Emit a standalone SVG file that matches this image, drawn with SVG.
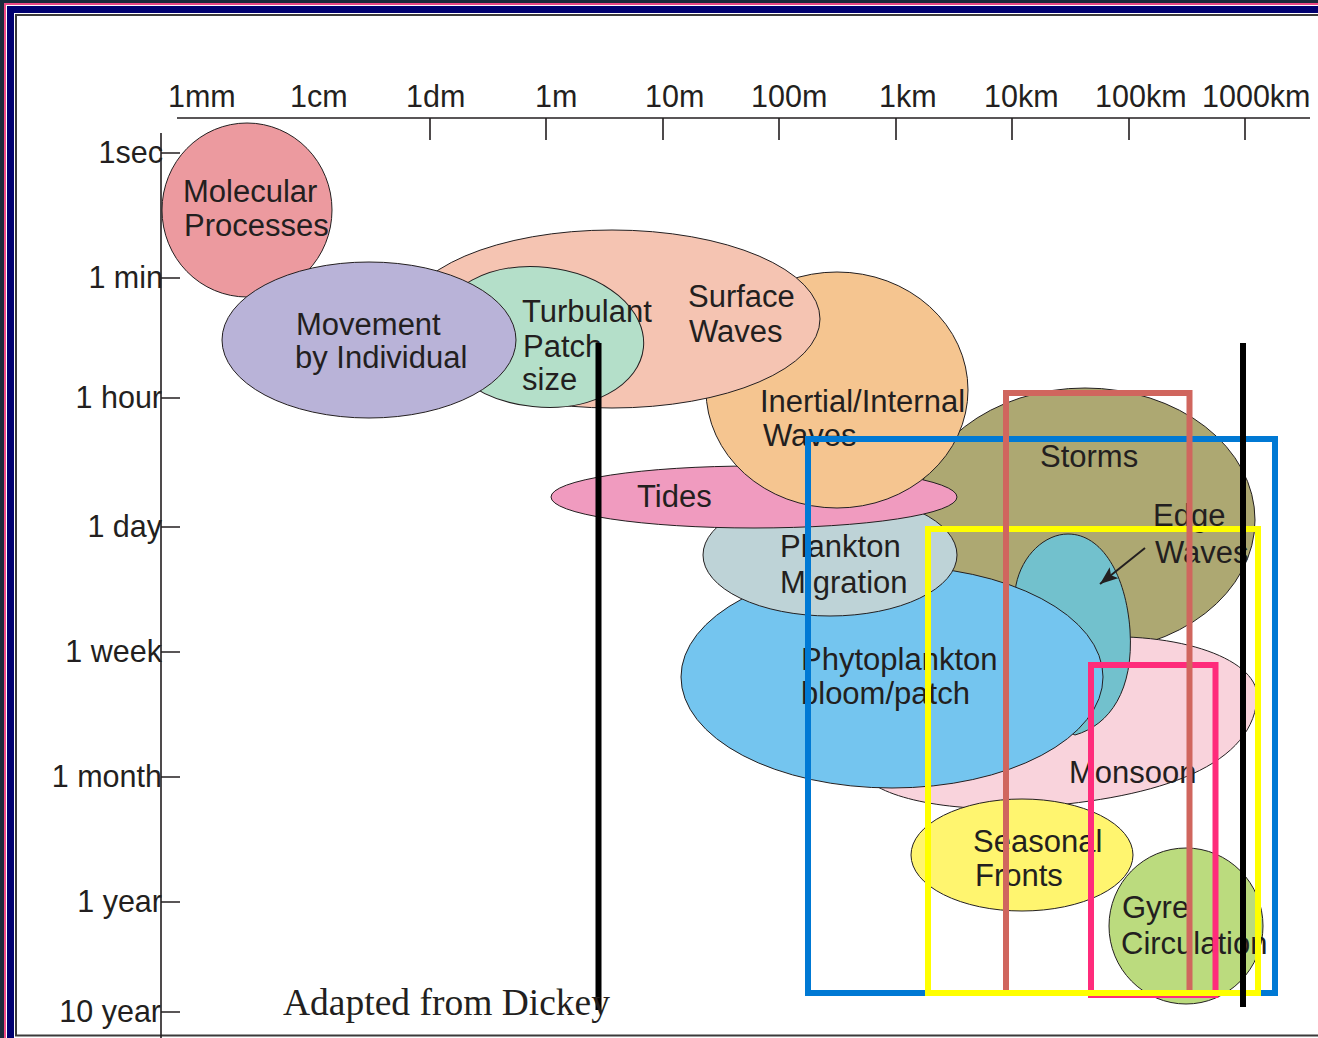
<svg xmlns="http://www.w3.org/2000/svg" width="1318" height="1038" viewBox="0 0 1318 1038">
<defs>
<style>
.t{font-family:"Liberation Sans",Arial,sans-serif;font-size:30.5px;fill:#231F20}
.n{font-family:"Liberation Sans",Arial,sans-serif;font-size:31px;fill:#231F20}
.ax{stroke:#231F20;stroke-width:1.6;fill:none}
.bl{stroke:#231F20;stroke-width:1;}
.box{fill:none;stroke-width:6}
.bar{stroke:#000;stroke-width:6}
</style>
<marker id="ah" viewBox="0 0 18 14" refX="18" refY="7" markerWidth="18" markerHeight="14" orient="auto" markerUnits="userSpaceOnUse"><path d="M0,0 L18,7 L0,14 L4,7 Z" fill="#231F20"/></marker>
</defs>
<rect x="0" y="0" width="1318" height="1038" fill="#ffffff"/>
<g id="frame">
<rect x="0" y="0" width="4" height="1038" fill="#1B2B3B"/>
<rect x="0" y="0" width="1318" height="3" fill="#1B2B3B"/>
<path d="M5,1038 V4 H1318" stroke="#EE4A86" stroke-width="2" fill="none"/>
<path d="M10.5,1038 V9.5 H1318" stroke="#000070" stroke-width="7" fill="none"/>
<path d="M1318,1035.5 H16 V15 H1318" stroke="#3A3A3A" stroke-width="2" fill="none"/>
</g>
<g id="axes">
<path class="ax" d="M177,118 H1310 M430,118 V140 M546,118 V140 M663,118 V140 M779,118 V140 M896,118 V140 M1012,118 V140 M1129,118 V140 M1245,118 V140"/>
<path class="ax" d="M161,133 V1038 M161,153 H180 M161,278 H180 M161,398 H180 M161,527 H180 M161,652 H180 M161,777 H180 M161,902 H180 M161,1012 H180"/>
<text class="t" x="168" y="107">1mm</text>
<text class="t" x="290" y="107">1cm</text>
<text class="t" x="406" y="107">1dm</text>
<text class="t" x="535" y="107">1m</text>
<text class="t" x="645" y="107">10m</text>
<text class="t" x="751" y="107">100m</text>
<text class="t" x="879" y="107">1km</text>
<text class="t" x="984" y="107">10km</text>
<text class="t" x="1095" y="107">100km</text>
<text class="t" x="1202" y="107">1000km</text>
<g text-anchor="end">
<text class="t" x="163" y="163">1sec</text>
<text class="t" x="163" y="288">1 min</text>
<text class="t" x="162" y="408">1 hour</text>
<text class="t" x="162" y="537">1 day</text>
<text class="t" x="162" y="662">1 week</text>
<text class="t" x="162" y="787">1 month</text>
<text class="t" x="162" y="912">1 year</text>
<text class="t" x="161" y="1022">10 year</text>
</g>
</g>
<g id="storms">
<ellipse class="bl" cx="1085" cy="520" rx="170" ry="132" fill="#ADA872"/>
<text class="n" x="1040" y="467">Storms</text>
</g>
<g id="monsoon">
<path class="bl" d="M1257,700 C1250,770 1150,800 1020,808 C940,812 870,795 860,770 C850,720 950,650 1080,638 C1180,630 1262,660 1257,700 Z" fill="#F9D3DC"/>
<text class="n" x="1069" y="783">Monsoon</text>
</g>
<g id="edge-waves">
<path class="bl" d="M1000,700 L1016,585 C1022,555 1045,534 1068,534 C1102,534 1126,575 1130,630 C1134,690 1110,725 1075,735 Z" fill="#72C1CD"/>
<text class="n" x="1153" y="526">Edge</text>
<text class="n" x="1155" y="563">Waves</text>
</g>
<g id="phytoplankton">
<ellipse class="bl" cx="892" cy="677" rx="211" ry="111" fill="#74C5EF"/>
<text class="n" x="801" y="670">Phytoplankton</text>
<text class="n" x="801" y="704">bloom/patch</text>
</g>
<g id="plankton-migration">
<ellipse class="bl" cx="830" cy="555" rx="127" ry="61" fill="#BED3D7"/>
<text class="n" x="780" y="557">Plankton</text>
<text class="n" x="780" y="593">Migration</text>
</g>
<g id="tides">
<ellipse class="bl" cx="754" cy="497" rx="203" ry="31" fill="#F09BBF"/>
<text class="n" x="637" y="507">Tides</text>
</g>
<g id="inertial-waves">
<ellipse class="bl" cx="837" cy="390" rx="131" ry="118" fill="#F5C590"/>
<text class="n" x="760" y="412">Inertial/Internal</text>
<text class="n" x="763" y="446">Waves</text>
</g>
<g id="surface-waves">
<ellipse class="bl" cx="612" cy="319" rx="208" ry="89" fill="#F5C4B2"/>
<text class="n" x="688" y="307">Surface</text>
<text class="n" x="689" y="342">Waves</text>
</g>
<g id="turbulant-patch">
<ellipse class="bl" cx="540" cy="337" rx="104" ry="70" fill="#B4DFC9" transform="rotate(6 540 337)"/>
<text class="n" x="522" y="322">Turbulant</text>
<text class="n" x="523" y="357">Patch</text>
<text class="n" x="522" y="390">size</text>
</g>
<g id="molecular">
<ellipse class="bl" cx="247" cy="210" rx="85" ry="87" fill="#EC9A9F"/>
<text class="n" x="183" y="202">Molecular</text>
<text class="n" x="184" y="236">Processes</text>
</g>
<g id="movement">
<ellipse class="bl" cx="369" cy="340" rx="147" ry="78" fill="#B9B3D8"/>
<text class="n" x="296" y="335">Movement</text>
<text class="n" x="295" y="368">by Individual</text>
</g>
<g id="seasonal-fronts">
<ellipse class="bl" cx="1022" cy="855" rx="111" ry="56" fill="#FFF56F"/>
<text class="n" x="973" y="852">Seasonal</text>
<text class="n" x="975" y="886">Fronts</text>
</g>
<g id="gyre">
<ellipse class="bl" cx="1186" cy="926" rx="77" ry="78" fill="#BBDB7E"/>
<text class="n" x="1122" y="918">Gyre</text>
<text class="n" x="1121" y="954">Circulation</text>
</g>
<g id="connectors">
<line x1="1145" y1="548" x2="1100" y2="584" stroke="#231F20" stroke-width="2" marker-end="url(#ah)"/>
</g>
<g id="overlays">
<rect class="box" x="808" y="439" width="467" height="554" stroke="#0079D4"/>
<rect class="box" x="1091" y="665" width="124.5" height="330" stroke="#FF2B7B"/>
<path class="box" d="M1006,993 V393 H1189.5 V993" stroke="#D0665E"/>
<rect class="box" x="928" y="529" width="330" height="464" stroke="#FFFF00"/>
<path class="box" d="M1006,526 V532 M1189.5,526 V532" stroke="#D0665E"/>
<line class="bar" x1="598.5" y1="343" x2="598.5" y2="1010"/>
<line class="bar" x1="1243" y1="343" x2="1243" y2="1007"/>
</g>
<text x="283" y="1015" font-family="'Liberation Serif','Times New Roman',serif" font-size="37.5" fill="#231F20">Adapted from Dickey</text>
</svg>
